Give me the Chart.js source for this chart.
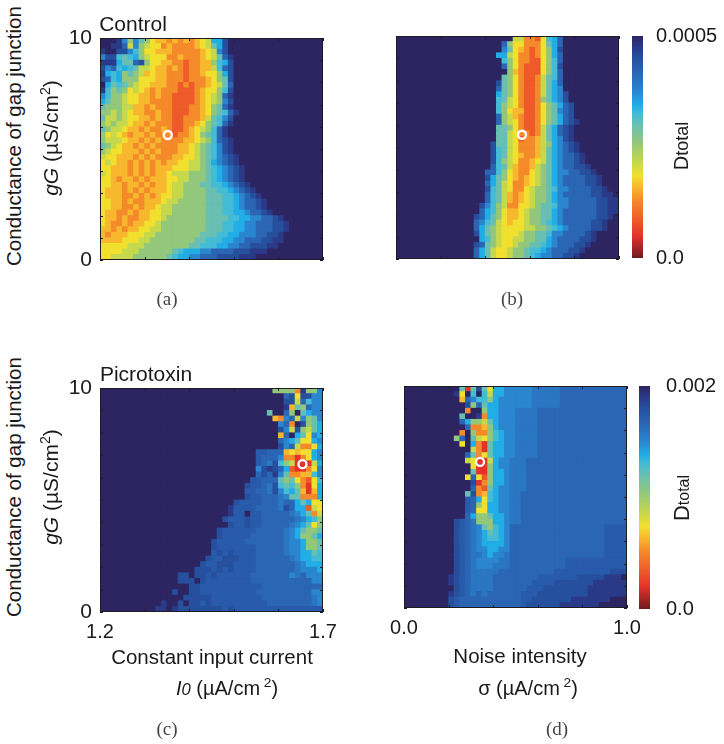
<!DOCTYPE html>
<html>
<head>
<meta charset="utf-8">
<style>
  html, body { margin: 0; background: #fff; }
  #page { position: relative; width: 724px; height: 744px; overflow: hidden; font-family: "Liberation Sans", Arial, sans-serif; color: #1a1a1a; }
  #page canvas { position: absolute; }
  .txt { position: absolute; white-space: nowrap; line-height: 1; }
  .cap { font-family: "Liberation Serif", serif; color: #444; }
  sup { font-size: 68%; line-height: 0; }
</style>
<script src="https://cdn.jsdelivr.net/npm/chart.js@4/dist/chart.umd.js"></script>
</head>
<body>
<div id="page"></div>
<script>
// each row is top to bottom, one digit per cell = level in the colour scale (0-9, a-h)
const nav = n => "f".repeat(n);

const levelFractions = [0, 0.1, 0.17, 0.26, 0.32, 0.37, 0.43, 0.52, 0.6, 0.65, 0.69, 0.75, 0.83, 0.9, 0.95, 1, 0.79, 0.865];
const levelColors = ["#6e1a1e", "#e5322b", "#ee5a2a", "#f58a2b", "#f8b82e", "#f2e02e", "#c6d84c", "#93c77c", "#69c0b2", "#45bcd6",
  "#21ade6", "#2a86cf", "#2a66b4", "#26509e", "#2a3a88", "#2d2562", "#2a76c2", "#285bab"];

const controlCurrentRows = [
  "fffeb7b8754434343456aad",
  "ffeec6b76553433334568ad",
  "effddb975544433333456bd",
  "bdd989a765553343334568ce",
  "eeea88cd75544332334479ad",
  "dbc9a98665443432334469cd",
  "ea9a787645443332334557ad",
  "dc9a7775554433323334578d",
  "fa898765544433232334568c",
  "e9787565434333222345579d",
  "b977655443433222234567ce",
  "a877655443333222234567bd",
  "877766443433322233 4578ce",
  "7767654433433222334578 9ce",
  "866765544343322333 4689bd",
  "767665443433322334 5789ce",
  "876654434334322345 679ce",
  "756543443433323345 789ce",
  "766654434343333445 679cde",
  "876544343433334456 789bde",
  "765544434343334456 789bde",
  "655444343433344556 789bcde",
  "565443434343445566 78abcde",
  "554443434344455566 789abcde",
  "654443434344566677 789abcde",
  "554344343444556677 789abcde",
  "554434434344566777 8899abcde",
  "544434343444566777 7889 9abcde",
  "544433434345566777 788899abcde",
  "554434334445667777 788899abccde",
  "554433434456677777 788899abccde",
  "544334344556677777 7888 99aabccde",
  "544343344556777777 7888899aabbccde",
  "543343445567777777 788899aabbcccdde",
  "443434455667777777 788899aabbcccdde",
  "434445556677777777 88899aabbbccdde",
  "444455566777777778 8999aabbcccddee",
  "555556667777777788 9 99aabbccdddee",
  "555566677777789aaa bbccccdddeee",
  "556666777777 89aabbcccddddeee"
];

const controlNoiseRows = [
  nav(18) + "fff6633259ac",
  nav(18) + "fc75533358ac",
  nav(18) + "fb85432357ad",
  nav(18) + "aa65332357ac",
  nav(18) + "f9753322579c",
  nav(18) + "fc753222579d",
  nav(18) + "ff743222579c",
  nav(18) + "f8753223689c",
  nav(18) + "d875322368ac",
  nav(18) + "c875322368ab",
  nav(18) + "a875322368abd",
  nav(18) + "9865322378abd",
  nav(18) + "97653223578acd",
  nav(18) + "97544223578bcd",
  nav(18) + "c7643223578acd",
  nav(18) + "c7653223578acde",
  nav(14) + "ffff8875322368acde",
  nav(14) + "ffff8865332368acde",
  nav(14) + "ffff8865233468abde",
  nav(14) + "fffd8865333467abcde",
  nav(14) + "fffd9865333468abcde",
  nav(14) + "fffd9865433468abccde",
  nav(14) + "fffd9765334568abccde",
  nav(14) + "fffc9864334678abccdde",
  nav(14) + "ffcc9754335678abbccdde",
  nav(14) + "ffda8754345678abccccdde",
  nav(14) + "ffca8653345678abccccdde",
  nav(14) + "ffd9865335677 89bbccccdde",
  nav(14) + "ffc98643456778abcccccddee",
  nav(14) + "ffc98643456778abbcccccddee",
  nav(14) + "fdb97633556 7889bbcccccddee",
  nav(14) + "fca97544567788abccccccddee",
  nav(14) + "dca87544567788abccccccdde",
  nav(14) + "cb98654556778 9abcccccdde",
  nav(14) + "ca8765555667789abccccdde",
  nav(14) + "da876555677889bbccccde",
  nav(14) + "fa97655667788abccccdde",
  nav(14) + "dc87655677889abcccdde",
  nav(14) + "ca865567789 9abcccdde",
  nav(14) + "ca865567789abbccdde"
];

const picroCurrentRows = [
  nav(30) + "f77773e77b",
  nav(30) + "fffcd5ddbb",
  nav(30) + "fffdd6c9bb",
  nav(30) + "fffe487cbb",
  nav(30) + "8ffc7f8abb",
  nav(30) + "f43bc6b78b",
  nav(30) + "ffbc3fd78a",
  nav(30) + "ffdb6d768a",
  nav(30) + "ff4cfa85ba",
  nav(30) + "ffcba855ab",
  nav(30) + "ffdbc6335a",
  nav(28) + "hhccc45455ab",
  nav(28) + "hcccb33135ab",
  nav(28) + "hcgd9761116a",
  nav(28) + "bdedca21135b",
  nav(28) + "cdceb833449b",
  nav(27) + "hhccc87853259",
  nav(26) + "dhhcgd9897315a",
  nav(26) + "hhccgdb9a8414a",
  nav(26) + "dhhcccgb88333a",
  nav(24) + "dhhhhcccgcca8a55",
  nav(23) + "ehhhhccccgdcaa265",
  nav(23) + "ehhfhhcccccgba836",
  nav(22) + "dhhhdhhccccccgba97",
  nav(22) + "fdhhdhhcccccgba857",
  nav(21) + "dhhhhhhcccccgba8778",
  nav(21) + "dhhhhhccccccgba778a",
  nav(20) + "dhhhhhcccccccgbba778",
  nav(20) + "dhhhhhhhcccccgbba778",
  nav(20) + "hdhdhhhhcccccgbbaa89",
  nav(19) + "dhhdddhhhccccccgbaa99",
  nav(18) + "dhhdddhhhhcccccccgbaaa",
  nav(17) + "dddhdhdhhhhcccccccgbbba",
  nav(14) + "ddfddhdhhhhhhcccccccbgcbbb",
  nav(14) + "dddfdhhhhhhhhcccccccccccbb",
  nav(14) + "ffddhhhhhhhhhhhccccccccccc",
  nav(13) + "dffddhhhhhhhhhhccccccccccbb",
  nav(12) + "fffdddddhhhhhhhhhcccccccccgb",
  nav(11) + "effdfddhdhhhhhhhhhhccccccccgb",
  nav(9) + "feefeddddddddhdhhhhhhhhhhhhhhhh"
];

const noiseTail1 = "bbbbgggggcccccccccccc";
const noiseTail2 = "bggggcccccccccccccccc";
const noiseTail3 = "gggcccccccccccccccccc";
const noiseTail4 = "ggccccccccccccccccccc";
const noiseTail5 = "ccccccccccccccccchhhh";
const noiseTail6 = "cccccccccchhhhhhhhhhh";

const picroNoiseRows = [
  nav(9) + "f818d85aab" + noiseTail1,
  nav(9) + "e5f9f96aab" + noiseTail1,
  nav(9) + "f4cb997abb" + noiseTail1,
  nav(9) + "ffd7c8aabb" + noiseTail1,
  nav(9) + "ff3ff7aabb" + noiseTail2,
  nav(9) + "f8ffe3aabb" + noiseTail2,
  nav(9) + "fca7768abb" + noiseTail2,
  nav(9) + "ffc3347abb" + noiseTail2,
  nav(9) + "f3f73379ab" + noiseTail2,
  nav(9) + "7cf86579ab" + noiseTail2,
  nav(9) + "f5fa318aab" + noiseTail2,
  nav(9) + "fff6318aab" + noiseTail2,
  nav(9) + "ffc8358aab" + noiseTail2,
  nav(9) + "ff65116abb" + noiseTail3,
  nav(9) + "fff5117abb" + noiseTail3,
  nav(9) + "fff8117aab" + noiseTail3,
  nav(9) + "ff5c527aab" + noiseTail3,
  nav(9) + "fffd137aab" + noiseTail3,
  nav(9) + "fffc328abb" + noiseTail3,
  nav(9) + "ff8d349abb" + noiseTail4,
  nav(9) + "ffhca59abb" + noiseTail4,
  nav(9) + "ffhc75aabb" + noiseTail4,
  nav(9) + "ffhc55aabb" + noiseTail4,
  nav(9) + "ffca778aab" + noiseTail4,
  nav(9) + "dhcg777aab" + noiseTail4,
  nav(9) + "dhcgb879ab" + noiseTail5,
  nav(9) + "dhcgba89ab" + noiseTail5,
  nav(9) + "dhcgba99ab" + noiseTail5,
  nav(9) + "dhcgbaaaab" + noiseTail5,
  nav(9) + "dhcgbbaabb" + noiseTail5,
  nav(9) + "dhcggbabbg" + noiseTail5,
  nav(9) + "dhcgbbbbgg" + noiseTail6,
  nav(9) + "dhcgbbbggg" + noiseTail6,
  nav(9) + "dhcgggggcc" + "cccccccchhhhhhhhhhddd",
  nav(8) + "e" + "dhcggggccc" + "ccccchhhhhhhdddddeee",
  nav(8) + "e" + "dhcggggccc" + "cccchhhhdddddddeeeeee",
  nav(8) + "f" + "dhcggggccc" + "ccchhhddddddddeeeeeee",
  nav(8) + "e" + "dhcgcgcccc" + "cchhhdddddddddeeeeeee",
  nav(8) + "d" + "hccccccccc" + "cchhdddddddeeeeeeefff",
  nav(8) + "d" + "hccccccccc" + "cchddddddeeeeeeefffff"
];

const currentRange = [1.2, 1.7];
const noiseRange = [0, 1];
const gapRange = [0, 10];
const currentLabels = ["1.2", "1.7"];
const noiseLabels = ["0.0", "1.0"];
const gapLabels = ["0", "10"];

// optimum markers: [x, gG]
const markerA = [1.352, 5.63];
const markerB = [0.565, 5.57];
const markerC = [1.654, 6.6];
const markerD = [0.341, 6.58];

const page = document.getElementById("page");
const GRID = 40;

function cellsFrom(rows, xRange, dmax) {
  const cells = [];
  const colors = [];
  rows.forEach((row, r) => {
    const full = row.replace(/ /g, "").padEnd(GRID, "f");
    for (let c = 0; c < GRID; c++) {
      const level = parseInt(full[c], 36);
      cells.push({
        x: xRange[0] + (c + 0.5) / GRID * (xRange[1] - xRange[0]),
        y: gapRange[1] * (1 - (r + 0.5) / GRID),
        v: levelFractions[level] * dmax
      });
      colors.push(levelColors[level]);
    }
  });
  return { cells, colors };
}

// ticks point inward on all four sides, plus the box round the panel
const framePlugin = {
  id: "frame",
  beforeDatasetsDraw(chart) {
    const { ctx, chartArea: a } = chart;
    ctx.fillStyle = levelColors[15];
    ctx.fillRect(a.left, a.top, a.right - a.left, a.bottom - a.top);
  },
  afterDatasetsDraw(chart) {
    const { ctx, chartArea: a, scales } = chart;
    ctx.save();
    ctx.strokeStyle = "#1c1c22";
    ctx.lineWidth = 1;
    ctx.beginPath();
    scales.x.ticks.forEach(t => {
      const px = Math.round(scales.x.getPixelForValue(t.value)) + 0.5;
      ctx.moveTo(px, a.top); ctx.lineTo(px, a.top + 3);
      ctx.moveTo(px, a.bottom); ctx.lineTo(px, a.bottom - 3);
    });
    scales.y.ticks.forEach(t => {
      const py = Math.round(scales.y.getPixelForValue(t.value)) + 0.5;
      ctx.moveTo(a.left, py); ctx.lineTo(a.left + 3, py);
      ctx.moveTo(a.right, py); ctx.lineTo(a.right - 3, py);
    });
    ctx.stroke();
    ctx.strokeRect(a.left + 0.5, a.top + 0.5, a.right - a.left - 1, a.bottom - a.top - 1);
    ctx.restore();
  }
};

function heatmap(box, rows, xRange, xStep, xLabels, yLabels, marker, dmax) {
  const padL = 42, padR = 30, padT = 14, padB = 36;
  const cv = document.createElement("canvas");
  cv.width = box.w + padL + padR;
  cv.height = box.h + padT + padB;
  cv.style.left = (box.x - padL) + "px";
  cv.style.top = (box.y - padT) + "px";
  page.appendChild(cv);

  const { cells, colors } = cellsFrom(rows, xRange, dmax);
  const radius = Math.max(box.w, box.h) / GRID / 2 * Math.SQRT2 + 0.5;

  new Chart(cv.getContext("2d"), {
    type: "scatter",
    data: {
      datasets: [{
        data: [{ x: marker[0], y: marker[1] }],
        order: 0,
        pointRadius: 4,
        pointBorderWidth: 2.4,
        pointBorderColor: "#fff",
        pointBackgroundColor: "rgba(0,0,0,0)"
      }, {
        data: cells,
        order: 1,
        pointStyle: "rect",
        pointRadius: radius,
        pointBorderWidth: 0,
        pointBackgroundColor: colors
      }]
    },
    options: {
      responsive: false,
      animation: false,
      events: [],
      layout: { padding: { top: padT, right: padR, left: 0, bottom: 0 } },
      plugins: { legend: { display: false }, tooltip: { enabled: false } },
      scales: {
        x: {
          type: "linear",
          min: xRange[0], max: xRange[1],
          afterFit: s => { s.height = padB; s.paddingLeft = 0; s.paddingRight = 0; },
          grid: { display: false, drawTicks: false },
          border: { display: false },
          ticks: {
            stepSize: xStep, autoSkip: false, maxRotation: 0, padding: 8, color: "#1a1a1a",
            font: { family: "Liberation Sans", size: 20 },
            callback: (v, i, all) => xLabels ? (i === 0 ? xLabels[0] : i === all.length - 1 ? xLabels[1] : "") : ""
          }
        },
        y: {
          type: "linear",
          min: gapRange[0], max: gapRange[1],
          afterFit: s => { s.width = padL; s.paddingTop = 0; s.paddingBottom = 0; },
          grid: { display: false, drawTicks: false },
          border: { display: false },
          ticks: {
            stepSize: 1, autoSkip: false, padding: 8, color: "#1a1a1a",
            font: { family: "Liberation Sans", size: 21 },
            callback: (v, i, all) => yLabels ? (i === 0 ? yLabels[0] : i === all.length - 1 ? yLabels[1] : "") : ""
          }
        }
      }
    },
    plugins: [framePlugin]
  });
}

function colorbar(box, dmax, topLabel, gap) {
  const padT = 14, padB = 14, padR = 90;
  const cv = document.createElement("canvas");
  cv.width = box.w + padR;
  cv.height = box.h + padT + padB;
  cv.style.left = box.x + "px";
  cv.style.top = (box.y - padT) + "px";
  page.appendChild(cv);

  new Chart(cv.getContext("2d"), {
    type: "bar",
    data: {
      labels: ["D"],
      datasets: [{
        data: [[0, dmax]],
        barPercentage: 1,
        categoryPercentage: 1,
        backgroundColor: ctx => {
          const area = ctx.chart.chartArea;
          if (!area) return levelColors[15];
          const g = ctx.chart.ctx.createLinearGradient(0, area.bottom, 0, area.top);
          levelFractions.forEach((f, i) => g.addColorStop(f, levelColors[i]));
          return g;
        }
      }]
    },
    options: {
      responsive: false,
      animation: false,
      events: [],
      layout: { padding: { top: padT, bottom: padB } },
      plugins: { legend: { display: false }, tooltip: { enabled: false } },
      scales: {
        x: { display: false },
        y: {
          position: "right",
          min: 0, max: dmax,
          afterFit: s => { s.width = padR; s.paddingTop = 0; s.paddingBottom = 0; },
          grid: { display: false, drawTicks: false },
          border: { display: false },
          ticks: {
            stepSize: dmax, padding: gap, color: "#1a1a1a",
            font: { family: "Liberation Sans", size: 20 },
            callback: v => v === 0 ? "0.0" : topLabel
          }
        }
      }
    }
  });
}

function label(html, x, y, size, opts) {
  const el = document.createElement("div");
  el.className = "txt" + (opts && opts.cap ? " cap" : "");
  el.innerHTML = html;
  el.style.left = x + "px";
  el.style.top = y + "px";
  if (size) el.style.fontSize = size + "px";
  el.style.transform = "translate(-50%,-50%)" + (opts && opts.rot ? " rotate(-90deg)" : "");
  page.appendChild(el);
}

heatmap({ x: 100, y: 38, w: 223, h: 222 }, controlCurrentRows, currentRange, 0.1, null, gapLabels, markerA, 0.0005);
heatmap({ x: 396, y: 36, w: 223, h: 223 }, controlNoiseRows, noiseRange, 0.2, null, null, markerB, 0.0005);
heatmap({ x: 100, y: 388, w: 223, h: 224 }, picroCurrentRows, currentRange, 0.1, currentLabels, gapLabels, markerC, 0.002);
heatmap({ x: 404, y: 386, w: 223, h: 222 }, picroNoiseRows, noiseRange, 0.2, noiseLabels, null, markerD, 0.002);

colorbar({ x: 632, y: 36, w: 11, h: 222 }, 0.0005, "0.0005", 13);
colorbar({ x: 639, y: 386, w: 11, h: 223 }, 0.002, "0.002", 16);

label("Control", 133, 23, 21);
label("Picrotoxin", 146, 373, 21);
label("Conductance of gap junction", 14, 136, 20.5, { rot: true });
label("Conductance of gap junction", 14, 487, 20.5, { rot: true });
label("<i>gG</i> (µS/cm<sup>2</sup>)", 50, 138, 21, { rot: true });
label("<i>gG</i> (µS/cm<sup>2</sup>)", 50, 487, 21, { rot: true });
label("Constant input current", 212, 657, 20.5);
label("<i>I<small>0</small></i> (µA/cm<sup> 2</sup>)", 227, 688, 20);
label("Noise intensity", 520, 656, 20.5);
label("σ (µA/cm<sup> 2</sup>)", 528, 688, 20);
label("D<span style=\"font-size:18px\">total</span>", 681, 146, 20, { rot: true });
label("D<span style=\"font-size:16px\">total</span>", 682, 498, 22, { rot: true });
label("(a)", 167, 298, 19, { cap: true });
label("(b)", 512, 298, 19, { cap: true });
label("(c)", 167, 728, 19, { cap: true });
label("(d)", 557, 728, 19, { cap: true });
</script>
</body>
</html>
